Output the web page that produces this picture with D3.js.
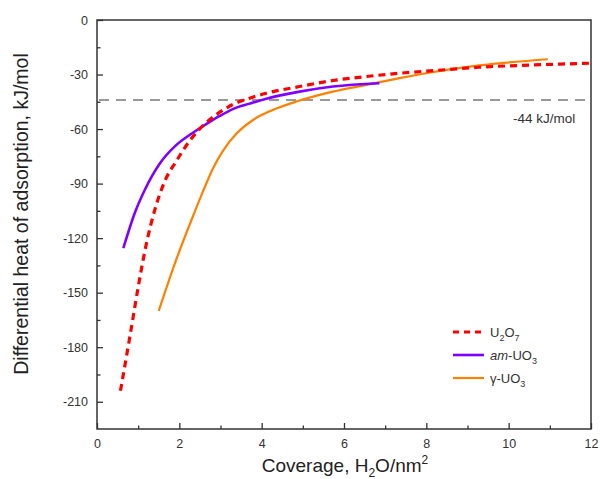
<!DOCTYPE html>
<html><head><meta charset="utf-8">
<script src="https://cdn.jsdelivr.net/npm/d3@7"></script>
<style>body{margin:0;background:#fff}svg{display:block;font-family:Arial,"Liberation Sans",sans-serif}</style>
</head><body><svg id="c" width="600" height="479"></svg>
<script>
const xTicks = [0,2,4,6,8,10,12];
const yTicks = [0,-30,-60,-90,-120,-150,-180,-210];
const refValue = -44;
const refLabel = "-44 kJ/mol";
const u2o7 = [[0.57,-204],[0.8,-174],[1.0,-147],[1.2,-123],[1.41,-104],[1.65,-88.5],[1.93,-77.5],[2.25,-66.5],[2.58,-58],[2.9,-52],[3.3,-46.5],[3.71,-43],[4.11,-40.3],[4.92,-36.6],[5.73,-33.3],[6.54,-31.1],[7.35,-29.3],[8.5,-27.3],[9.28,-26],[10.5,-24.8],[11.95,-23.8]];
const amUO3 = [[0.64,-125.5],[0.92,-106],[1.16,-93.5],[1.53,-78.8],[1.93,-68.7],[2.33,-62],[2.74,-56],[2.98,-52.8],[3.3,-49],[3.71,-46],[4.11,-43.3],[4.92,-39.4],[5.73,-36.6],[6.86,-34.8]];
const gUO3 = [[1.5,-160],[1.89,-134],[2.33,-108],[2.58,-94],[2.82,-81.5],[3.06,-72],[3.39,-62.5],[3.79,-55],[4.27,-49.5],[4.88,-44.6],[5.73,-39.4],[6.54,-35.7],[7.35,-32],[8.07,-29],[9.28,-25],[10.95,-21.6]];

const svg = d3.select("#c");
const L=97, R=591, T=20, B=429;
const x = d3.scaleLinear().domain([0,12]).range([L,R]);
const y = d3.scaleLinear().domain([-225,0]).range([B,T]);
const axisCol="#333";
const FF = "Arial,'Liberation Sans',sans-serif";

svg.append("rect").attr("x",L).attr("y",T).attr("width",R-L).attr("height",B-T)
  .attr("fill","none").attr("stroke",axisCol).attr("stroke-width",1.5);

const xa = svg.append("g").attr("transform",`translate(0,${B})`)
  .call(d3.axisBottom(x).tickValues(d3.range(0,13,1)).tickSize(-6).tickFormat(d=>xTicks.includes(d)?d:""));
xa.select(".domain").remove();
xa.selectAll(".tick line").attr("stroke",axisCol).attr("stroke-width",1.3).attr("y2",d=>xTicks.includes(d)?-6:-3.5);
xa.selectAll(".tick text").attr("y",10).attr("font-size",12.5).attr("fill","#333").attr("font-family",FF);

const ya = svg.append("g").attr("transform",`translate(${L},0)`)
  .call(d3.axisLeft(y).tickValues(d3.range(-210,1,15)).tickSize(-6).tickFormat(d=>yTicks.includes(d)?d:""));
ya.select(".domain").remove();
ya.selectAll(".tick line").attr("stroke",axisCol).attr("stroke-width",1.3).attr("x2",d=>yTicks.includes(d)?6:3.5);
ya.selectAll(".tick text").attr("x",-9).attr("font-size",12.5).attr("fill","#333").attr("font-family",FF);

svg.append("line").attr("x1",L+2).attr("x2",R-1).attr("y1",y(refValue)).attr("y2",y(refValue))
  .attr("stroke","#999").attr("stroke-width",2).attr("stroke-dasharray","10,7");
svg.append("text").attr("x",513).attr("y",y(refValue)+23).attr("font-size",13.5).attr("fill","#333").text(refLabel);

const line = d3.line().x(d=>x(d[0])).y(d=>y(d[1])).curve(d3.curveMonotoneX);
svg.append("path").datum(gUO3).attr("d",line).attr("fill","none").attr("stroke","#ff8000").attr("stroke-width",2.2);
svg.append("path").datum(amUO3).attr("d",line).attr("fill","none").attr("stroke","#8000ff").attr("stroke-width",2.6);
svg.append("path").datum(u2o7).attr("d",line).attr("fill","none").attr("stroke","#ff0000").attr("stroke-width",3.2).attr("stroke-dasharray","7,5");

const leg = [
  {col:"#ff0000",dash:"6,5",w:3.2,parts:[["U",0],["2",1],["O",-1],["7",1]]},
  {col:"#8000ff",dash:null,w:2.6,parts:[["am",2],["-UO",0],["3",1]]},
  {col:"#ff8000",dash:null,w:2.2,parts:[["γ-UO",0],["3",1]]}
];
leg.forEach((l,i)=>{
  const yy = 332 + i*23;
  const ln = svg.append("line").attr("x1",453).attr("x2",484).attr("y1",yy).attr("y2",yy)
    .attr("stroke",l.col).attr("stroke-width",l.w);
  if(l.dash) ln.attr("stroke-dasharray",l.dash);
  const t = svg.append("text").attr("x",490).attr("y",yy+5).attr("font-size",13).attr("fill","#333");
  l.parts.forEach(p=>{
    const ts = t.append("tspan").text(p[0]);
    if(p[1]===1) ts.attr("font-size",9).attr("dy",4);
    else if(p[1]===-1) ts.attr("dy",-4);
    else if(p[1]===2) ts.attr("font-style","italic");
  });
});

const xt = svg.append("text").attr("x",345).attr("y",472).attr("text-anchor","middle").attr("font-size",19).attr("fill","#222");
xt.append("tspan").text("Coverage, H");
xt.append("tspan").text("2").attr("font-size",12).attr("dy",5);
xt.append("tspan").text("O/nm").attr("dy",-5);
xt.append("tspan").text("2").attr("font-size",12).attr("dy",-8);

svg.append("text").attr("transform","translate(28,214) rotate(-90)").attr("text-anchor","middle")
  .attr("font-size",19.5).attr("fill","#222").text("Differential heat of adsorption, kJ/mol");
</script></body></html>
